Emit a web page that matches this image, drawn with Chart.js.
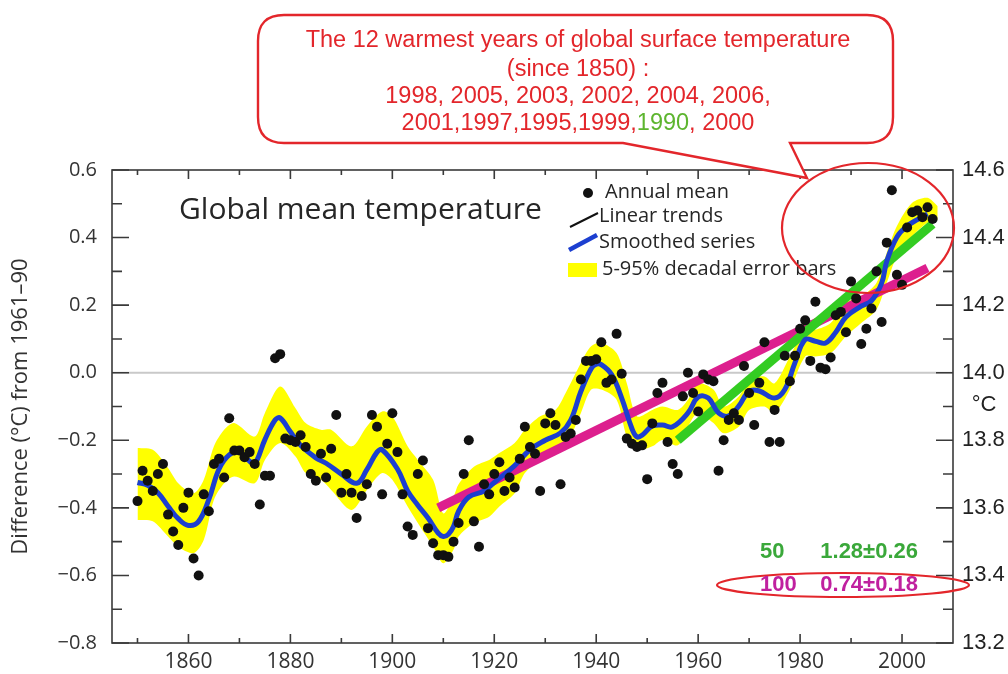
<!DOCTYPE html>
<html>
<head>
<meta charset="utf-8">
<script src="https://cdn.jsdelivr.net/npm/chart.js@4.4.1/dist/chart.umd.min.js"></script>
<style>
  html, body { margin: 0; padding: 0; background: #ffffff; }
  #wrap { position: relative; width: 1008px; height: 674px; }
  canvas { display: block; }
</style>
</head>
<body>
<div id="wrap"><canvas id="chart" width="1008" height="674"></canvas></div>
<script>
// Annual global mean surface temperature anomalies (°C, relative to 1961–90)
const annualYears = [
  1850,1851,1852,1853,1854,1855,1856,1857,1858,1859,
  1860,1861,1862,1863,1864,1865,1866,1867,1868,1869,
  1870,1871,1872,1873,1874,1875,1876,1877,1878,1879,
  1880,1881,1882,1883,1884,1885,1886,1887,1888,1889,
  1890,1891,1892,1893,1894,1895,1896,1897,1898,1899,
  1900,1901,1902,1903,1904,1905,1906,1907,1908,1909,
  1910,1911,1912,1913,1914,1915,1916,1917,1918,1919,
  1920,1921,1922,1923,1924,1925,1926,1927,1928,1929,
  1930,1931,1932,1933,1934,1935,1936,1937,1938,1939,
  1940,1941,1942,1943,1944,1945,1946,1947,1948,1949,
  1950,1951,1952,1953,1954,1955,1956,1957,1958,1959,
  1960,1961,1962,1963,1964,1965,1966,1967,1968,1969,
  1970,1971,1972,1973,1974,1975,1976,1977,1978,1979,
  1980,1981,1982,1983,1984,1985,1986,1987,1988,1989,
  1990,1991,1992,1993,1994,1995,1996,1997,1998,1999,
  2000,2001,2002,2003,2004,2005,2006
];
const annualMean = [
  -0.38,-0.29,-0.32,-0.35,-0.30,-0.27,-0.42,-0.47,-0.51,-0.40,
  -0.355,-0.55,-0.60,-0.36,-0.41,-0.27,-0.255,-0.31,-0.135,-0.23,
  -0.23,-0.25,-0.235,-0.27,-0.39,-0.305,-0.305,0.043,0.055,-0.195,
  -0.20,-0.205,-0.185,-0.22,-0.30,-0.32,-0.24,-0.31,-0.225,-0.125,
  -0.355,-0.30,-0.355,-0.43,-0.365,-0.33,-0.125,-0.16,-0.36,-0.21,
  -0.12,-0.235,-0.36,-0.455,-0.48,-0.30,-0.26,-0.46,-0.505,-0.54,
  -0.54,-0.545,-0.50,-0.445,-0.30,-0.20,-0.44,-0.515,-0.33,-0.36,
  -0.30,-0.265,-0.35,-0.31,-0.34,-0.255,-0.16,-0.22,-0.24,-0.35,
  -0.15,-0.12,-0.155,-0.33,-0.19,-0.18,-0.14,-0.02,0.035,0.035,
  0.04,0.09,-0.03,-0.02,0.115,-0.003,-0.195,-0.21,-0.22,-0.215,
  -0.315,-0.15,-0.06,-0.03,-0.205,-0.27,-0.30,-0.07,0.00,-0.06,
  -0.115,-0.005,-0.02,-0.025,-0.29,-0.20,-0.14,-0.12,-0.14,0.02,
  -0.06,-0.155,-0.03,0.09,-0.205,-0.11,-0.205,0.05,-0.025,0.05,
  0.13,0.155,0.035,0.21,0.015,0.01,0.045,0.17,0.18,0.12,
  0.27,0.22,0.085,0.13,0.19,0.30,0.15,0.385,0.54,0.29,
  0.26,0.43,0.475,0.48,0.46,0.49,0.455
];

// Smoothed (decadal filter) series
const smoothYears = [
  1850,1852,1854,1856,1858,1860,1862,1864,1866,1868,1870,1872,1873,1875,1877,1878,
  1880,1882,1885,1887,1890,1893,1895,1897,1898,1901,1903,1905,1907,1909,1910,1911,
  1912,1913,1915,1918,1920,1924,1927,1930,1933,1935,1937,1939,1940,1941,1943,1945,
  1947,1948,1949,1951,1953,1955,1958,1960,1962,1964,1966,1968,1970,1972,1975,1977,
  1979,1981,1983,1985,1987,1989,1992,1994,1996,1997,1999,2001,2003,2005
];
const smoothValues = [
  -0.325,-0.333,-0.355,-0.395,-0.432,-0.452,-0.440,-0.375,-0.285,-0.243,-0.235,-0.262,-0.270,-0.198,-0.140,-0.134,
  -0.175,-0.215,-0.252,-0.268,-0.300,-0.327,-0.287,-0.235,-0.228,-0.285,-0.350,-0.392,-0.430,-0.475,-0.485,-0.478,
  -0.455,-0.410,-0.368,-0.350,-0.325,-0.275,-0.228,-0.200,-0.178,-0.140,-0.055,0.012,0.025,0.024,-0.005,-0.075,
  -0.165,-0.190,-0.185,-0.158,-0.155,-0.160,-0.119,-0.072,-0.075,-0.119,-0.128,-0.098,-0.055,-0.054,-0.075,-0.050,
  0.030,0.098,0.093,0.088,0.120,0.165,0.197,0.213,0.265,0.330,0.402,0.434,0.453,0.470
];

// 5–95% decadal error band
const bandYears = [
  1850,1853,1856,1858,1861,1863,1865,1867,1869,1873,1875,1878,1881,1883,1886,1888,
  1892,1895,1898,1900,1903,1905,1908,1910,1912,1913,1916,1919,1921,1924,1926,1929,
  1932,1934,1937,1939,1941,1944,1946,1948,1951,1953,1956,1958,1960,1963,1965,1968,
  1970,1973,1975,1978,1981,1983,1986,1989,1992,1995,1997,1999,2002,2005,2007
];
const bandUpper = [
  -0.223,-0.228,-0.282,-0.327,-0.357,-0.317,-0.218,-0.169,-0.149,-0.189,-0.119,-0.041,-0.105,-0.149,-0.169,-0.169,
  -0.218,-0.159,-0.115,-0.129,-0.218,-0.258,-0.317,-0.416,-0.367,-0.330,-0.278,-0.258,-0.238,-0.208,-0.169,-0.129,
  -0.110,-0.060,0.029,0.078,0.088,0.058,-0.031,-0.129,-0.110,-0.100,-0.110,-0.080,-0.031,-0.050,-0.100,-0.070,
  -0.021,-0.011,-0.031,0.048,0.127,0.127,0.147,0.207,0.226,0.266,0.355,0.434,0.503,0.518,0.493
];
const bandLower = [
  -0.436,-0.440,-0.485,-0.515,-0.534,-0.495,-0.376,-0.327,-0.307,-0.327,-0.258,-0.208,-0.248,-0.297,-0.317,-0.347,
  -0.406,-0.347,-0.297,-0.317,-0.396,-0.445,-0.515,-0.564,-0.524,-0.485,-0.445,-0.426,-0.396,-0.357,-0.297,-0.258,
  -0.238,-0.218,-0.119,-0.050,-0.050,-0.080,-0.189,-0.228,-0.218,-0.199,-0.215,-0.159,-0.119,-0.149,-0.179,-0.159,
  -0.110,-0.100,-0.119,-0.050,0.048,0.048,0.058,0.108,0.147,0.187,0.266,0.345,0.404,0.444,0.453
];

// Linear trends: 100-year (0.74 °C per century) and 50-year (1.28 °C per century)
const trend100Years = [1909, 2005];
const trend100Values = [-0.400, 0.310];
const trend50Years = [1956, 2006];
const trend50Values = [-0.200, 0.440];

// Axis ticks
const xTickLabels = [1860, 1880, 1900, 1920, 1940, 1960, 1980, 2000];
const xMinorTicks = [1850, 1870, 1890, 1910, 1930, 1950, 1970, 1990];
const yTickLabels = [-0.8, -0.6, -0.4, -0.2, 0.0, 0.2, 0.4, 0.6];
const yMinorTicks = [-0.7, -0.5, -0.3, -0.1, 0.1, 0.3, 0.5];
const yRightTickLabels = [13.2, 13.4, 13.6, 13.8, 14.0, 14.2, 14.4, 14.6];

// Warmest-year note and trend table
const warmestLines = [
  'The 12 warmest years of global surface temperature',
  '(since 1850) :',
  '1998, 2005, 2003, 2002, 2004, 2006,'
];
const warmestLastLine = ['2001,1997,1995,1999,', '1990', ', 2000'];
const trendPeriods = ['50', '100'];
const trendRates = ['1.28±0.26', '0.74±0.18'];

const pts = (xs, ys) => xs.map((x, i) => ({ x: x, y: ys[i] }));

const RED = '#e3262b';
const SANS = '"Open Sans", "Noto Sans", sans-serif';
const ARIAL = '"Liberation Sans", Arial, sans-serif';

function ellipse(ctx, cx, cy, rx, ry) {
  ctx.beginPath();
  ctx.ellipse(cx, cy, rx, ry, 0, 0, Math.PI * 2);
  ctx.stroke();
}

const decorations = {
  id: 'decorations',
  beforeDatasetsDraw(chart) {
    const { ctx, chartArea: a, scales } = chart;
    const y0 = scales.y.getPixelForValue(0);
    ctx.save();
    ctx.strokeStyle = '#c9c9c9';
    ctx.lineWidth = 2;
    ctx.beginPath();
    ctx.moveTo(a.left, y0);
    ctx.lineTo(a.right, y0);
    ctx.stroke();
    ctx.restore();
  },
  afterDatasetsDraw(chart) {
    const { ctx, chartArea: a, scales } = chart;
    const x = scales.x, y = scales.y;
    ctx.save();
    ctx.strokeStyle = '#3a3a3a';
    ctx.lineWidth = 1.6;
    ctx.strokeRect(a.left, a.top, a.right - a.left, a.bottom - a.top);
    ctx.beginPath();
    const xt = (v, len) => {
      const px = x.getPixelForValue(v);
      ctx.moveTo(px, a.bottom); ctx.lineTo(px, a.bottom - len);
      ctx.moveTo(px, a.top); ctx.lineTo(px, a.top + len);
    };
    xTickLabels.forEach(v => xt(v, 9));
    xMinorTicks.forEach(v => xt(v, 5));
    const yt = (v, len) => {
      const py = y.getPixelForValue(v);
      ctx.moveTo(a.left, py); ctx.lineTo(a.left + len, py);
      ctx.moveTo(a.right, py); ctx.lineTo(a.right - len, py);
    };
    yTickLabels.forEach(v => yt(v, 17));
    yMinorTicks.forEach(v => yt(v, 10));
    ctx.stroke();
    ctx.restore();
  },
  afterDraw(chart) {
    const { ctx } = chart;
    ctx.save();

    // Title
    ctx.fillStyle = '#262626';
    ctx.font = '30px ' + SANS;
    ctx.textBaseline = 'middle';
    ctx.textAlign = 'left';
    ctx.fillText('Global mean temperature', 179, 210);

    // Legend
    ctx.font = '20px ' + SANS;
    ctx.fillStyle = '#111';
    ctx.beginPath(); ctx.arc(588, 193, 5, 0, Math.PI * 2); ctx.fill();
    ctx.fillStyle = '#262626';
    ctx.fillText('Annual mean', 605, 192);
    ctx.strokeStyle = '#111'; ctx.lineWidth = 2;
    ctx.beginPath(); ctx.moveTo(570, 227); ctx.lineTo(598, 213); ctx.stroke();
    ctx.fillText('Linear trends', 599, 216);
    ctx.strokeStyle = '#1c3fd0'; ctx.lineWidth = 4.5;
    ctx.beginPath(); ctx.moveTo(569, 250); ctx.lineTo(597, 235); ctx.stroke();
    ctx.fillText('Smoothed series', 599, 242);
    ctx.fillStyle = '#ffff00';
    ctx.fillRect(568, 263, 29, 14);
    ctx.fillStyle = '#262626';
    ctx.fillText('5-95% decadal error bars', 602, 269);

    // Highlight ellipses
    ctx.strokeStyle = RED; ctx.lineWidth = 2.2;
    ellipse(ctx, 868, 228, 86, 65);
    ellipse(ctx, 843, 585, 126, 12);

    // Callout box with tail
    const L = 258, T = 15, R = 893, B = 143, r = 26;
    ctx.beginPath();
    ctx.moveTo(L + r, T);
    ctx.lineTo(R - r, T);
    ctx.quadraticCurveTo(R, T, R, T + r);
    ctx.lineTo(R, B - r);
    ctx.quadraticCurveTo(R, B, R - r, B);
    ctx.lineTo(790, B);
    ctx.lineTo(807, 178);
    ctx.lineTo(623, B);
    ctx.lineTo(L + r, B);
    ctx.quadraticCurveTo(L, B, L, B - r);
    ctx.lineTo(L, T + r);
    ctx.quadraticCurveTo(L, T, L + r, T);
    ctx.closePath();
    ctx.fillStyle = '#ffffff';
    ctx.fill();
    ctx.strokeStyle = RED; ctx.lineWidth = 2.4;
    ctx.stroke();

    // Callout text
    const cx = 578;
    ctx.font = '23.5px ' + ARIAL;
    ctx.textAlign = 'center';
    ctx.fillStyle = RED;
    const lineY = [41, 70, 97, 124];
    warmestLines.forEach((s, i) => ctx.fillText(s, cx, lineY[i]));
    const widths = warmestLastLine.map(s => ctx.measureText(s).width);
    let sx = cx - widths.reduce((p, q) => p + q, 0) / 2;
    ctx.textAlign = 'left';
    const segColors = [RED, '#5db52f', RED];
    warmestLastLine.forEach((s, i) => {
      ctx.fillStyle = segColors[i];
      ctx.fillText(s, sx, lineY[3]);
      sx += widths[i];
    });

    // Trend table
    ctx.font = 'bold 22px ' + ARIAL;
    const rowColors = ['#3aa83a', '#c0209f'];
    const rowY = [552, 585];
    trendPeriods.forEach((p, i) => {
      ctx.fillStyle = rowColors[i];
      ctx.textAlign = 'left';
      ctx.fillText(p, 760, rowY[i]);
      ctx.textAlign = 'right';
      ctx.fillText(trendRates[i], 918, rowY[i]);
    });

    // Right axis unit
    ctx.fillStyle = '#222';
    ctx.font = '22px ' + ARIAL;
    ctx.textAlign = 'center';
    ctx.fillText('°C', 984, 405);

    ctx.restore();
  }
};

new Chart(document.getElementById('chart'), {
  type: 'scatter',
  data: {
    datasets: [
      {
        label: 'Annual mean',
        data: pts(annualYears, annualMean),
        pointRadius: 5,
        pointBackgroundColor: '#111111',
        pointBorderWidth: 0,
        order: 0
      },
      {
        label: 'Smoothed series',
        data: pts(smoothYears, smoothValues),
        showLine: true,
        borderColor: '#1c3fd0',
        borderWidth: 5,
        pointRadius: 0,
        tension: 0.4,
        order: 1
      },
      {
        label: '50-year trend',
        data: pts(trend50Years, trend50Values),
        showLine: true,
        borderColor: '#33cc22',
        borderWidth: 9,
        pointRadius: 0,
        order: 2
      },
      {
        label: '100-year trend',
        data: pts(trend100Years, trend100Values),
        showLine: true,
        borderColor: '#dd1f8e',
        borderWidth: 9,
        pointRadius: 0,
        order: 3
      },
      {
        label: '5-95% decadal error bars',
        data: pts(bandYears, bandUpper),
        showLine: true,
        borderWidth: 0,
        borderColor: 'rgba(0,0,0,0)',
        backgroundColor: '#ffff00',
        pointRadius: 0,
        tension: 0.3,
        fill: '+1',
        order: 4
      },
      {
        label: 'band lower',
        data: pts(bandYears, bandLower),
        showLine: true,
        borderWidth: 0,
        borderColor: 'rgba(0,0,0,0)',
        pointRadius: 0,
        tension: 0.3,
        fill: false,
        order: 5
      }
    ]
  },
  options: {
    responsive: false,
    devicePixelRatio: 1,
    animation: false,
    layout: { padding: { top: 170, left: 0, right: 0, bottom: 0 } },
    plugins: { legend: { display: false }, tooltip: { enabled: false } },
    scales: {
      x: {
        type: 'linear',
        min: 1845, max: 2010,
        grid: { display: false, drawTicks: false },
        border: { display: false },
        afterBuildTicks: s => { s.ticks = xTickLabels.map(v => ({ value: v })); },
        afterFit: s => { s.height = 31; },
        ticks: {
          color: '#333',
          font: { family: SANS, size: 21 },
          padding: 6,
          maxRotation: 0,
          callback: v => String(v)
        }
      },
      y: {
        position: 'left',
        min: -0.8, max: 0.6,
        grid: { display: false, drawTicks: false },
        border: { display: false },
        afterBuildTicks: s => { s.ticks = yTickLabels.map(v => ({ value: v })); },
        afterFit: s => { s.width = 112; },
        ticks: {
          color: '#333',
          font: { family: SANS, size: 20 },
          padding: 15,
          callback: v => (v < 0 ? '\u2212' : '') + Math.abs(v).toFixed(1)
        },
        title: {
          display: true,
          text: 'Difference (°C) from 1961–90',
          color: '#333',
          font: { family: SANS, size: 22 },
          padding: { top: 8, bottom: 0 }
        }
      },
      y2: {
        position: 'right',
        min: 13.2, max: 14.6,
        grid: { display: false, drawTicks: false },
        border: { display: false },
        afterBuildTicks: s => { s.ticks = yRightTickLabels.map(v => ({ value: v })); },
        afterFit: s => { s.width = 55; },
        ticks: {
          color: '#222',
          font: { family: ARIAL, size: 22 },
          padding: 9,
          callback: v => v.toFixed(1)
        }
      }
    }
  },
  plugins: [decorations]
});
</script>
</body>
</html>
